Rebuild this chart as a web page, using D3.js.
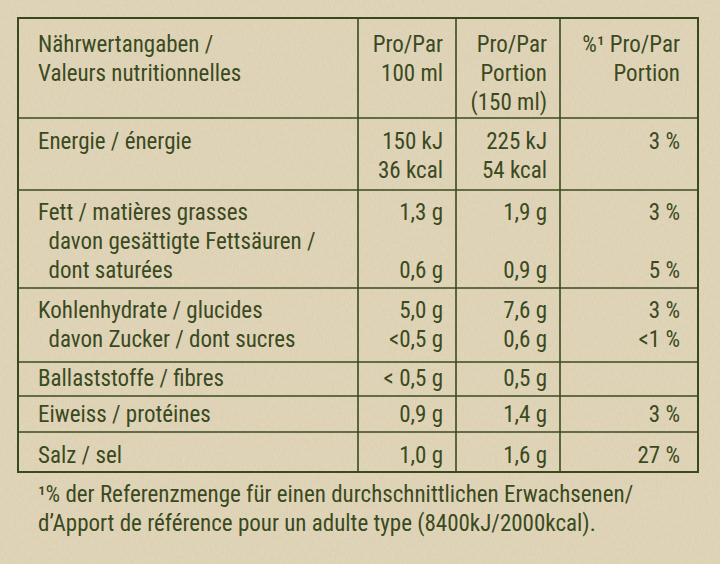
<!DOCTYPE html>
<html><head><meta charset="utf-8">
<script src="https://cdn.jsdelivr.net/npm/d3@7"></script>
<style>
body{margin:0;background:#e6dcc2;}
svg{display:block;}
text{font-family:"Liberation Sans Narrow","Roboto Condensed","Liberation Sans",sans-serif;fill:#3a4a1e;font-size:23px;}
</style></head><body>
<script>
// table content
const headers = [["Nährwertangaben /", "Valeurs nutritionnelles"], ["Pro/Par", "100 ml"], ["Pro/Par", "Portion", "(150 ml)"], ["%¹ Pro/Par", "Portion"]];
const labels = [
  ["Energie / énergie"],
  ["Fett / matières grasses", "  davon gesättigte Fettsäuren /", "  dont saturées"],
  ["Kohlenhydrate / glucides", "  davon Zucker / dont sucres"],
  ["Ballaststoffe / fibres"],
  ["Eiweiss / protéines"],
  ["Salz / sel"]
];
const per100 = [["150 kJ", "36 kcal"], ["1,3 g", "", "0,6 g"], ["5,0 g", "<0,5 g"], ["< 0,5 g"], ["0,9 g"], ["1,0 g"]];
const perPortion = [["225 kJ", "54 kcal"], ["1,9 g", "", "0,9 g"], ["7,6 g", "0,6 g"], ["0,5 g"], ["1,4 g"], ["1,6 g"]];
const pctRef = [["3 %"], ["3 %", "", "5 %"], ["3 %", "<1 %"], [""], ["3 %"], ["27 %"]];
const rowEdges = [18, 118, 190, 288, 362, 396, 432, 472];
const firstBaseline = [149, 220, 318, 386, 422, 463];
const colEdges = [18, 358, 456, 560, 698];
const footnote = ["¹% der Referenzmenge für einen durchschnittlichen Erwachsenen/", "d’Apport de référence pour un adulte type (8400kJ/2000kcal)."];

const W = 720, H = 564, line = 29;
const svg = d3.select("body").append("svg").attr("width", W).attr("height", H);

// subtle paper texture
const defs = svg.append("defs");
const f = defs.append("filter").attr("id", "paper");
f.append("feTurbulence").attr("type", "fractalNoise").attr("baseFrequency", "0.9 0.25").attr("numOctaves", 2).attr("seed", 3);
f.append("feColorMatrix").attr("values", "0 0 0 0 0.55  0 0 0 0 0.48  0 0 0 0 0.32  0 0 0 0.45 0");
svg.append("rect").attr("width", W).attr("height", H).attr("fill", "#e4d8bc");
svg.append("rect").attr("width", W).attr("height", H).attr("filter", "url(#paper)").attr("opacity", 0.7);

const g = svg.append("g");
const stroke = "#3a4a1e";
g.append("rect").attr("x", colEdges[0]).attr("y", rowEdges[0])
  .attr("width", colEdges[4] - colEdges[0]).attr("height", rowEdges[7] - rowEdges[0])
  .attr("fill", "none").attr("stroke", stroke).attr("stroke-width", 2);
g.selectAll("line.h").data(rowEdges.slice(1, -1)).join("line")
  .attr("x1", colEdges[0]).attr("x2", colEdges[4]).attr("y1", d => d).attr("y2", d => d)
  .attr("stroke", stroke).attr("stroke-width", 1.6);
g.selectAll("line.v").data(colEdges.slice(1, -1)).join("line")
  .attr("y1", rowEdges[0]).attr("y2", rowEdges[7]).attr("x1", d => d).attr("x2", d => d)
  .attr("stroke", stroke).attr("stroke-width", 1.6);

const rightX = [null, 443, 547, 680];
function cell(lines, x, y0, anchor) {
  const t = g.append("text").attr("text-anchor", anchor).attr("xml:space", "preserve");
  lines.forEach((s, i) => {
    t.append("tspan").attr("x", x).attr("y", y0 + i * line).text(s);
  });
}
// header
headers.forEach((h, c) => cell(h, c === 0 ? 38 : rightX[c], 52, c === 0 ? "start" : "end"));
// body
labels.forEach((lab, r) => {
  const y0 = firstBaseline[r];
  cell(lab, 38, y0, "start");
  cell(per100[r], rightX[1], y0, "end");
  cell(perPortion[r], rightX[2], y0, "end");
  cell(pctRef[r], rightX[3], y0, "end");
});
cell(footnote, 38, 502, "start");
</script>
</body></html>
